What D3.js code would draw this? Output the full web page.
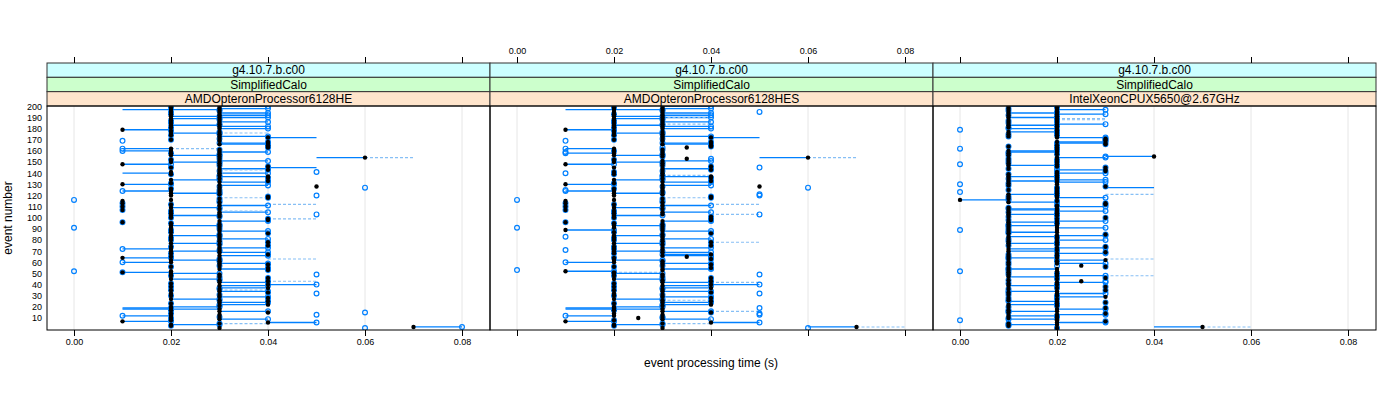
<!DOCTYPE html>
<html><head><meta charset="utf-8">
<script src="https://cdn.jsdelivr.net/npm/d3@7"></script>
<style>body{margin:0;background:#fff}</style></head>
<body>
<svg id="c" width="1400" height="400"></svg>
<script>
const versionLabel = "g4.10.7.b.c00";
const geometryLabel = "SimplifiedCalo";
const processors = ["AMDOpteronProcessor6128HE", "AMDOpteronProcessor6128HES", "IntelXeonCPUX5650@2.67GHz"];
const xTickValues = [0.00, 0.02, 0.04, 0.06, 0.08];
const xTickLabels = ["0.00", "0.02", "0.04", "0.06", "0.08"];
const yTickValues = [10,20,30,40,50,60,70,80,90,100,110,120,130,140,150,160,170,180,190,200];
const xTitle = "event processing time (s)";
const yTitle = "event number";

// event processing times in ms, events 1..200 (10 per row)
const p1Black = [
30,70,20,20,30,40,10,20,30,20, 30,20,30,20,40,30,20,30,20,20,
30,40,20,30,40,30,20,40,30,20, 30,20,40,30,20,30,40,20,30,40,
20,30,40,30,20,40,30,20,30,20, 10,20,40,30,40,20,30,40,30,20,
30,20,30,10,20,30,40,20,30,20, 30,20,30,20,40,30,20,40,30,20,
30,20,30,20,30,40,20,30,20,30, 20,30,20,30,20,10,30,40,40,20,
30,20,30,20,30,20,10,30,20,10, 30,20,10,30,10,20,30,40,40,20,
30,20,30,20,30,20,30,50,30,10, 20,30,40,20,30,40,40,30,20,30,
20,30,40,30,20,40,30,10,30,20, 30,20,30,60,30,20,30,20,30,20,
30,20,40,40,40,30,40,40,30,20, 30,40,30,20,30,20,30,20,10,30,
20,30,20,30,20,30,20,30,20,30, 20,30,20,30,20,30,20,30,20,30];
const p1Blue = [
60,80,20,30,30,50,20,20,40,20, 30,10,50,20,60,40,20,20,20,30,
30,30,20,40,40,30,30,40,40,20, 30,50,40,40,20,30,30,20,40,50,
20,40,40,30,30,40,30,20,50,30, 10,0,40,40,40,20,30,40,40,10,
30,30,30,20,20,40,40,20,40,30, 30,10,40,20,40,30,30,40,30,20,
40,20,30,30,30,40,20,40,20,30, 0,30,30,30,20,10,40,40,40,20,
30,30,50,20,40,20,10,30,30,10, 40,20,10,30,30,0,30,40,40,50,
30,30,30,10,30,20,60,30,40,20, 20,40,40,30,30,40,30,30,20,40,
50,30,40,40,20,40,30,20,30,30, 40,20,30,null,30,30,30,20,40,10,
30,10,40,40,40,40,30,40,10,20, 30,40,40,20,30,30,30,20,20,40,
20,40,30,30,20,40,20,30,30,40, 30,40,20,40,20,30,30,40,20,40];
// [event, from, to, dashed]
const p1Extra = [
[197,10,20,0],[140,10,20,0],[19,10,20,0],[18,10,20,0],[172,40,50,0],[145,40,50,0],[154,50,60,0],[51,10,20,0],
[154,60,70,1],[112,40,50,1],[99,40,50,1],[63,40,50,1],[43,40,50,1],[5,30,40,1],[162,20,30,1],[176,30,40,1],
[143,30,40,1],[118,30,40,1],[106,30,40,1],[35,30,40,1]];

const p2Black = [
30,70,20,20,30,40,10,20,30,25, 30,20,30,20,40,30,20,30,20,20,
30,40,20,30,40,30,20,40,30,20, 30,20,40,30,20,30,40,20,30,40,
20,30,40,30,20,40,30,20,30,20, 20,10,30,30,40,20,30,40,30,20,
30,20,40,20,35,30,40,20,30,20, 30,20,30,20,40,30,20,40,30,20,
30,20,30,20,30,40,20,30,10,30, 20,30,20,30,20,10,30,40,40,20,
40,20,30,20,30,20,10,30,20,10, 30,20,10,30,10,20,30,40,40,20,
30,20,30,20,30,20,30,50,30,10, 20,30,40,20,30,40,40,30,20,30,
20,30,40,30,20,40,30,10,30,20, 30,20,35,60,30,20,30,20,30,20,
30,20,35,40,40,30,40,40,30,20, 30,40,30,20,30,20,30,20,10,30,
20,30,20,30,20,30,20,30,20,30, 20,30,20,30,20,30,20,30,20,30];
const p2Blue = [
60,null,20,30,30,50,20,20,40,30, 30,10,50,50,40,40,20,20,50,30,
30,30,20,40,40,30,30,40,40,20, 30,50,40,40,20,30,30,20,40,50,
20,40,40,30,30,40,30,20,50,30, 20,20,0,40,40,20,30,40,40,10,
30,30,40,20,40,40,30,20,40,30, 10,20,40,20,40,30,30,40,30,20,
40,20,10,30,30,40,20,40,20,30, 0,30,30,30,20,10,40,40,40,20,
40,30,50,20,40,20,10,30,30,10, 40,20,10,30,30,0,30,40,40,50,
50,30,30,10,10,20,60,30,40,20, 20,40,40,30,30,40,30,30,20,10,
20,30,40,40,50,40,30,20,30,30, 40,20,40,null,30,30,30,10,10,20,
30,10,30,40,40,40,30,40,10,20, 30,40,40,20,30,30,30,20,20,40,
20,40,30,30,20,40,20,30,30,40, 30,40,20,40,50,30,30,40,20,40];
const p2Extra = [
[197,10,20,0],[172,40,50,0],[154,50,60,0],[2,60,70,0],[18,10,20,0],[19,10,20,0],
[154,60,70,1],[2,70,80,1],[112,40,50,1],[103,40,50,1],[78,40,50,1],[42,40,50,1],[16,40,50,1],
[184,30,40,1],[138,30,40,1],[118,30,40,1],[190,30,40,1],[26,30,40,1],[5,30,40,1],[51,20,30,1]];

const p3Black = [
20,50,10,20,10,20,30,20,20,10, 20,10,20,30,10,20,10,20,30,10,
20,10,20,30,20,10,20,10,30,20, 10,20,10,20,30,10,20,30,10,20,
10,20,25,10,20,30,10,20,10,20, 10,20,10,20,10,30,25,10,20,10,
20,30,10,20,10,20,10,20,30,10, 20,10,20,30,10,20,10,20,10,20,
10,20,10,20,30,10,20,10,20,10, 20,10,20,10,20,10,20,10,20,30,
10,20,10,20,10,20,10,20,10,20, 20,30,30,10,20,0,10,20,10,20,
10,20,20,20,10,20,20,30,10,20, 10,20,10,20,10,20,10,20,10,20,
20,30,30,10,30,20,10,20,10,20, 10,20,10,20,40,10,20,10,20,10,
20,20,20,10,20,30,30,20,30,30, 30,20,10,20,10,20,10,20,20,20,
10,20,10,20,10,20,10,20,20,10, 20,10,20,10,20,10,20,10,20,10];
const p3Blue = [
20,null,10,10,10,30,30,0,10,10, 20,20,30,30,10,10,10,30,30,10,
20,20,20,30,10,10,20,10,20,20, 10,30,10,10,30,10,20,30,20,20,
10,30,30,10,20,30,20,30,10,20, 10,0,10,10,10,30,20,10,30,10,
20,20,10,10,10,20,10,30,30,20, 20,20,30,30,10,20,20,20,10,30,
10,20,20,30,30,10,10,10,0,10, 30,10,10,10,20,20,30,10,20,30,
10,20,20,20,10,30,20,10,10,30, 20,30,30,20,20,10,10,30,10,20,
20,20,0,20,10,20,20,30,10,0, 10,30,20,30,10,20,20,20,10,30,
20,30,20,10,30,20,20,0,10,20, 10,20,10,30,30,10,20,10,10,20,
20,0,20,10,20,30,20,30,30,30, 30,30,10,20,10,20,20,20,0,10,
10,20,20,30,10,20,10,20,20,20, 20,10,30,20,20,10,30,10,20,20];
const p3Extra = [
[127,30,40,0],[2,40,50,0],
[2,50,60,1],[189,20,30,1],[188,20,30,1],[121,30,40,1],[63,30,40,1],[48,30,40,1]];

const panelBlack = [p1Black, p2Black, p3Black];
const panelBlue = [p1Blue, p2Blue, p3Blue];
const panelExtra = [p1Extra, p2Extra, p3Extra];

// ---------- layout ----------
const svg = d3.select("#c");
const font = "'Liberation Sans', Arial, Helvetica, sans-serif";
const panelLeft = 47, panelW = 443, plotTop = 106, plotBottom = 330, stripTop = 63, stripH = (plotTop - stripTop) / 3;
const blueCol = "#0080ff", dashCol = "#86bff5";

const y = d3.scaleLinear().domain([-0.75, 200.3]).range([plotBottom, plotTop]);

processors.forEach((proc, pi) => {
  const x0 = panelLeft + pi * panelW;
  const x = d3.scaleLinear().domain([-0.00557, 0.08577]).range([x0, x0 + panelW]);
  const g = svg.append("g");
  const clipId = "clip" + pi;
  svg.append("clipPath").attr("id", clipId).append("rect")
    .attr("x", x0).attr("y", plotTop).attr("width", panelW).attr("height", plotBottom - plotTop);

  // grid
  g.selectAll(".grid").data(xTickValues).enter().append("line")
    .attr("x1", d => x(d)).attr("x2", d => x(d)).attr("y1", plotTop).attr("y2", plotBottom)
    .attr("stroke", "#e6e6e6").attr("stroke-width", 1);

  const black = panelBlack[pi], blue = panelBlue[pi], extra = panelExtra[pi];
  const rows = black.map((b, i) => ({ev: i + 1, b: b, c: blue[i]}));
  const marks = g.append("g").attr("clip-path", `url(#${clipId})`);

  // solid lines black -> blue
  marks.selectAll(".seg").data(rows.filter(r => r.c !== null && Math.abs(r.b - r.c) === 10)).enter().append("line")
    .attr("x1", r => x(r.b / 1000)).attr("x2", r => x(r.c / 1000))
    .attr("y1", r => y(r.ev)).attr("y2", r => y(r.ev))
    .attr("stroke", blueCol).attr("stroke-width", 1.3);
  // extra segments
  marks.selectAll(".ext").data(extra).enter().append("line")
    .attr("x1", d => x(d[1] / 1000)).attr("x2", d => x(d[2] / 1000))
    .attr("y1", d => y(d[0])).attr("y2", d => y(d[0]))
    .attr("stroke", d => d[3] ? dashCol : blueCol)
    .attr("stroke-width", d => d[3] ? 1.1 : 1.3)
    .attr("stroke-dasharray", d => d[3] ? "3,2" : null);
  // blue circles
  marks.selectAll(".ring").data(rows.filter(r => r.c !== null)).enter().append("circle")
    .attr("cx", r => x(r.c / 1000)).attr("cy", r => y(r.ev)).attr("r", 2.4)
    .attr("fill", "none").attr("stroke", blueCol).attr("stroke-width", 1.2);
  // black dots (on top)
  marks.selectAll(".dot").data(rows).enter().append("circle")
    .attr("cx", r => x(r.b / 1000)).attr("cy", r => y(r.ev)).attr("r", 2.2).attr("fill", "#000");

  // strips
  const stripCols = ["#ccffff", "#ccffcc", "#ffe5cc"];
  const stripText = [versionLabel, geometryLabel, proc];
  stripCols.forEach((c, si) => {
    const sy = stripTop + si * stripH;
    g.append("rect").attr("x", x0).attr("y", sy).attr("width", panelW).attr("height", stripH)
      .attr("fill", c).attr("stroke", "#333").attr("stroke-width", 1);
    g.append("text").attr("x", x0 + panelW / 2).attr("y", sy + stripH / 2 + 4.2)
      .attr("text-anchor", "middle").attr("font-family", font).attr("font-size", 12)
      .attr("fill", "#000").text(stripText[si]);
  });
  // panel frame
  g.append("rect").attr("x", x0).attr("y", plotTop).attr("width", panelW).attr("height", plotBottom - plotTop)
    .attr("fill", "none").attr("stroke", "#000").attr("stroke-width", 1);

  // axes (alternating)
  const bottom = d3.axisBottom(x).tickValues(xTickValues).tickSizeOuter(0).tickSize(6)
    .tickFormat((d, i) => pi === 1 ? "" : xTickLabels[i]);
  const top = d3.axisTop(x).tickValues(xTickValues).tickSizeOuter(0).tickSize(6)
    .tickFormat((d, i) => pi === 1 ? xTickLabels[i] : "");
  [svg.append("g").attr("transform", `translate(0,${plotBottom})`).call(bottom),
   svg.append("g").attr("transform", `translate(0,${stripTop})`).call(top)].forEach(a => {
    a.select(".domain").remove();
    a.selectAll("line").attr("stroke", "#000");
    a.selectAll("text").attr("font-family", font).attr("font-size", 9).attr("fill", "#000");
  });
});

// left axis
const left = d3.axisLeft(y).tickValues(yTickValues).tickSize(0).tickPadding(5);
const la = svg.append("g").attr("transform", `translate(${panelLeft},0)`).call(left);
la.select(".domain").remove();
la.selectAll("text").attr("font-family", font).attr("font-size", 9).attr("fill", "#000");

svg.append("text").attr("x", 711).attr("y", 367).attr("text-anchor", "middle")
  .attr("font-family", font).attr("font-size", 12).text(xTitle);
svg.append("text").attr("transform", `translate(12,${(plotTop + plotBottom) / 2}) rotate(-90)`)
  .attr("text-anchor", "middle").attr("font-family", font).attr("font-size", 12).text(yTitle);
</script>
</body></html>
